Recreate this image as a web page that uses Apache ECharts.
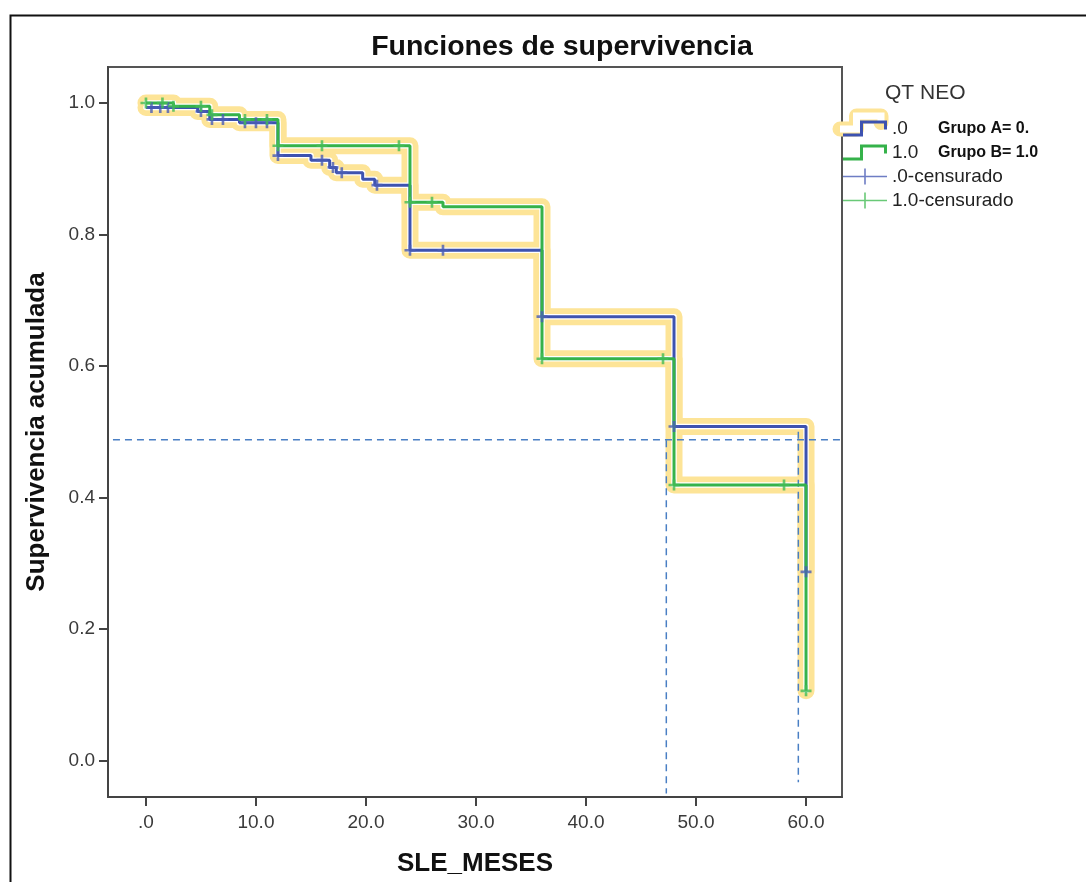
<!DOCTYPE html>
<html>
<head>
<meta charset="utf-8">
<script src="https://cdn.jsdelivr.net/npm/echarts@6/dist/echarts.min.js"></script>
<style>html,body{margin:0;padding:0;background:#fff;}#c{width:1086px;height:882px;}</style>
</head>
<body>
<div id="c"></div>
<script>
// ---- data ----
const timeA = [0, 4.7, 5.8, 8.5, 12, 15, 16.7, 17.3, 19.7, 20.8, 24, 36, 48, 60];
const survA = [0.993, 0.987, 0.975, 0.970, 0.920, 0.913, 0.902, 0.894, 0.884, 0.875, 0.776, 0.675, 0.508, 0.287];
const timeB = [0, 2.5, 5.8, 8.5, 12, 24, 27, 36, 48, 60];
const survB = [1.0, 0.995, 0.982, 0.975, 0.935, 0.849, 0.842, 0.611, 0.419, 0.106];
const censA = [0.5, 1.3, 2.0, 5.0, 6.0, 7.0, 9.0, 10.0, 11.0, 12, 16, 17, 17.8, 21, 24, 27, 36, 48, 60];
const censB = [0, 1.5, 2.5, 5.0, 6.0, 9.0, 11.0, 12, 16, 23, 24, 26, 36, 47, 48, 58, 60];
const refH = [[-3.0, 0.488], [63.27, 0.488]];
const refV1 = [[47.3, 0.487], [47.3, -0.05]];
const refV2 = [[59.3, 0.50], [59.3, -0.033]];
const xTickValues = [0, 10, 20, 30, 40, 50, 60];
const xTickLabels = ['.0', '10.0', '20.0', '30.0', '40.0', '50.0', '60.0'];
const yTickValues = [0, 0.2, 0.4, 0.6, 0.8, 1.0];
const yTickLabels = ['0.0', '0.2', '0.4', '0.6', '0.8', '1.0'];
const legendNames = ['.0', '1.0', '.0-censurado', '1.0-censurado'];
const groupNotes = ['Grupo A= 0.', 'Grupo B= 1.0'];
const titleText = 'Funciones de supervivencia';
const legendTitle = 'QT NEO';
const xName = 'SLE_MESES';
const yName = 'Supervivencia acumulada';

// ---- helpers ----
const pairs = (t, s) => t.map((v, i) => [v, s[i]]);
function survAt(t, s, x) {
  let v = s[0];
  for (let i = 0; i < t.length; i++) { if (x >= t[i]) v = s[i]; }
  return v;
}
const cens = (c, t, s) => c.map(x => [x, survAt(t, s, x)]);

const BLUE = '#3d52b0', GREEN = '#35b24a', HALO = '#fde497', DASH = '#4a7fc4';
const FONT = 'Liberation Sans';
const plusPath = 'path://M-2.4,-10L2.4,-10L2.4,-2.4L10,-2.4L10,2.4L2.4,2.4L2.4,10L-2.4,10L-2.4,2.4L-10,2.4L-10,-2.4L-2.4,-2.4Z';
const stepIcon = 'path://M0,13L17,13L17,0L44,0L44,9L41,9L41,3L20,3L20,16L0,16Z';
const plusIcon = 'path://M0,7.2L21.2,7.2L21.2,0L22.8,0L22.8,7.2L44,7.2L44,8.8L22.8,8.8L22.8,16L21.2,16L21.2,8.8L0,8.8Z';

const chart = echarts.init(document.getElementById('c'));
const band = (name, data, color, width, z) => ({
  name, type: 'line', step: 'end', data, symbol: 'none', silent: true, z,
  lineStyle: { color, width, cap: 'round', join: 'round' }
});
const dashed = (name, data) => ({
  name, type: 'line', data, symbol: 'none', silent: true, z: 3,
  lineStyle: { color: DASH, width: 1.5, type: [7, 5] }
});
const legendStep = [[840, 129], [856.5, 129], [856.5, 116], [881, 116], [881, 122.5]];

chart.setOption({
  animation: false,
  backgroundColor: '#fff',
  title: [
    { text: titleText, left: 557, top: 28, textAlign: 'center',
      textStyle: { fontFamily: FONT, fontSize: 28.5, fontWeight: 'bold', color: '#111' } },
    { text: legendTitle, left: 880, top: 78,
      textStyle: { fontFamily: FONT, fontSize: 21, fontWeight: 'normal', color: '#333' } }
  ],
  grid: { left: 108, top: 67, right: 244, bottom: 84, show: true, borderColor: '#555', borderWidth: 2 },
  xAxis: {
    type: 'value', min: -3.45, max: 63.27,
    name: xName, nameLocation: 'middle', nameGap: 54,
    nameTextStyle: { fontFamily: FONT, fontSize: 26, fontWeight: 'bold', color: '#111' },
    axisLine: { show: true, onZero: false, lineStyle: { color: '#444', width: 2 } },
    axisTick: { show: true, length: 9, customValues: xTickValues, lineStyle: { color: '#444', width: 2 } },
    axisLabel: { customValues: xTickValues, margin: 16, fontFamily: FONT, fontSize: 19, color: '#3a3a3a',
      formatter: v => xTickLabels[xTickValues.indexOf(v)] },
    splitLine: { show: false }
  },
  yAxis: {
    type: 'value', min: -0.0554, max: 1.0547,
    name: yName, nameLocation: 'middle', nameGap: 58, nameRotate: 90,
    nameTextStyle: { fontFamily: FONT, fontSize: 26, fontWeight: 'bold', color: '#111' },
    axisLine: { show: true, onZero: false, lineStyle: { color: '#444', width: 2 } },
    axisTick: { show: true, length: 9, customValues: yTickValues, lineStyle: { color: '#444', width: 2 } },
    axisLabel: { customValues: yTickValues, margin: 13, fontFamily: FONT, fontSize: 19, color: '#3a3a3a',
      formatter: v => { const i = yTickValues.findIndex(u => Math.abs(u - v) < 1e-9); return i >= 0 ? yTickLabels[i] : ''; } },
    splitLine: { show: false }
  },
  legend: {
    orient: 'vertical', left: 838, top: 114, itemWidth: 44, itemHeight: 16, itemGap: 5,
    selectedMode: false,
    itemStyle: { borderWidth: 0 },
    textStyle: { fontFamily: FONT, fontSize: 19, color: '#222', lineHeight: 16,
      rich: {
        t: { fontFamily: FONT, fontSize: 19, color: '#222', width: 46, lineHeight: 16 },
        g: { fontFamily: FONT, fontSize: 16, fontWeight: 'bold', color: '#111', lineHeight: 16 }
      } },
    formatter: n => {
      const i = legendNames.indexOf(n);
      return i < 2 ? '{t|' + n + '}{g|' + groupNotes[i] + '}' : n;
    },
    data: [
      { name: legendNames[0], icon: stepIcon },
      { name: legendNames[1], icon: stepIcon },
      { name: legendNames[2], icon: plusIcon },
      { name: legendNames[3], icon: plusIcon }
    ]
  },
  graphic: [
    { type: 'rect', left: 8, top: 13, z: 0, silent: true,
      shape: { width: 1200, height: 1000 }, style: { fill: 'none', stroke: '#111', lineWidth: 2 } },
    { type: 'polyline', z: 1, silent: true, shape: { points: legendStep },
      style: { stroke: HALO, lineWidth: 15, fill: 'none', lineJoin: 'round', lineCap: 'round' } },
    { type: 'polyline', z: 2, silent: true, shape: { points: legendStep },
      style: { stroke: '#fff', lineWidth: 7, fill: 'none', lineJoin: 'miter', lineCap: 'butt' } }
  ],
  series: [
    band('haloA', pairs(timeA, survA), HALO, 17, 1),
    band('haloB', pairs(timeB, survB), HALO, 17, 1),
    band('gapA', pairs(timeA, survA), '#ffffff', 5.5, 2),
    band('gapB', pairs(timeB, survB), '#ffffff', 5.5, 2),
    dashed('refH', refH),
    dashed('refV1', refV1),
    dashed('refV2', refV2),
    { name: legendNames[0], type: 'line', step: 'end', data: pairs(timeA, survA), symbol: 'none', z: 4,
      color: BLUE, lineStyle: { color: BLUE, width: 3 } },
    { name: legendNames[1], type: 'line', step: 'end', data: pairs(timeB, survB), symbol: 'none', z: 4,
      color: GREEN, lineStyle: { color: GREEN, width: 3 } },
    { name: legendNames[2], type: 'scatter', data: cens(censA, timeA, survA), symbol: plusPath, symbolSize: 11, z: 5,
      color: '#4a5db5', itemStyle: { color: '#4a5db5' } },
    { name: legendNames[3], type: 'scatter', data: cens(censB, timeB, survB), symbol: plusPath, symbolSize: 11, z: 5,
      color: '#44bb55', itemStyle: { color: '#44bb55' } }
  ]
});
</script>
</body>
</html>
